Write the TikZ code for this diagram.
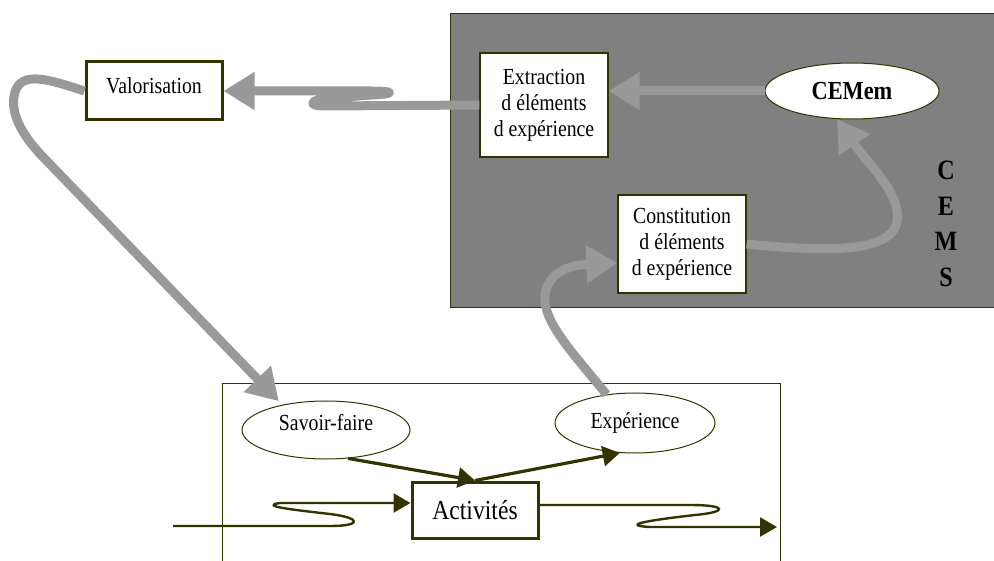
\documentclass[tikz,border=0pt]{standalone}
\usepackage{fontspec}
\setmainfont{Liberation Serif}[FakeStretch=0.86]
\usetikzlibrary{arrows.meta,shapes.geometric,calc}
\definecolor{inkolive}{HTML}{333300}
\definecolor{cemsgray}{HTML}{808080}
\definecolor{flowgray}{HTML}{999999}
\begin{document}
\begin{tikzpicture}[x=1pt,y=-1pt,
  txt/.style={font=\fontsize{23}{26}\selectfont, align=center},
  thinbox/.style={txt, draw=inkolive, line width=1.2pt, fill=white, inner sep=0pt},
  thickbox/.style={txt, draw=inkolive, line width=3pt, fill=white, inner sep=0pt},
  oval/.style={txt, ellipse, draw=inkolive, line width=1pt, fill=white, inner sep=0pt},
  flow/.style={draw=flowgray, line width=9pt, line join=round,
    -{Triangle[length=31pt,width=36pt]}},
  link/.style={draw=inkolive, line width=3.2pt, -{Triangle[length=17pt,width=20pt]}},
  wave/.style={draw=inkolive, line width=2.4pt, line join=round,
    -{Triangle[length=17pt,width=19pt]}}
]
\useasboundingbox (0,0) rectangle (994,561);

% CEMS area
\filldraw[fill=cemsgray, draw=inkolive, line width=1pt] (450,14) rectangle (1000,308);
% activity area (open at the bottom)
\draw[inkolive, line width=1pt] (222,570) -- (222,384) -- (780,384) -- (780,570);

% nodes
\node[thickbox, minimum width=136pt, minimum height=58pt, text height=16pt, text depth=10pt]
  (valo) at (154,91) {Valorisation};
\node[thinbox, minimum width=128pt, minimum height=104pt]
  (extr) at (544,105) {Extraction\\d éléments\\d expérience};
\node[thinbox, minimum width=128pt, minimum height=98pt]
  (const) at (682,244) {Constitution\\d éléments\\d expérience};
\node[oval, minimum width=174pt, minimum height=56pt, font=\fontsize{26}{28}\bfseries]
  (cemem) at (852,91) {CEMem};
\node[font=\fontsize{28}{35.5}\bfseries\selectfont, align=center]
  (cems) at (946,224) {C\\E\\M\\S};
\node[oval, minimum width=168pt, minimum height=58pt, text height=14pt, text depth=12pt]
  (sf) at (326,430) {Savoir-faire};
\node[oval, minimum width=160pt, minimum height=60pt]
  (exp) at (635,423) {Expérience};
\node[thickbox, minimum width=126pt, minimum height=56pt, font=\fontsize{27.5}{30}\selectfont]
  (act) at (475,510) {Activités};
\coordinate (inL) at (173,526);
\coordinate (outR) at (777,527);

% grey flows of the CEMS loop
\draw[flow] (cemem.west) -- (cemem.west -| extr.east);
\draw[flow] (extr.west) -- (325,106) .. controls (306,106) and (310,99) .. (332,98)
  -- (372,95) .. controls (396,94) and (394,91) .. (372,91) -- (valo.east);
\draw[flow, shorten >=5pt] (valo.west) .. controls (50,80) and (22,70) .. (15,92)
  .. controls (9,112) and (22,135) .. (42,156) -- (sf.150);
\draw[flow] (exp.135) .. controls (575,355) and (542,322) .. (545,295)
  .. controls (548,272) and (570,265) .. ($(const.west)+(0,19)$);
\draw[flow] (const.east) .. controls (830,252) and (905,255) .. (897,210)
  .. controls (892,185) and (865,160) .. (cemem.242);

% activity links
\draw[link] (sf.308) -- (act.north);
\draw[link] (act.north) -- (exp.243);
\draw[wave] (inL) -- (330,526) .. controls (362,526) and (362,518) .. (330,514)
  .. controls (295,510) and (258,506) .. (280,503) -- ($(act.west)+(0,-7)$);
\draw[wave] ($(act.east)+(0,-5)$) -- (690,505) .. controls (728,505) and (728,512) .. (695,515)
  .. controls (660,519) and (615,525) .. (650,527) -- (outR);
\end{tikzpicture}
\end{document}
